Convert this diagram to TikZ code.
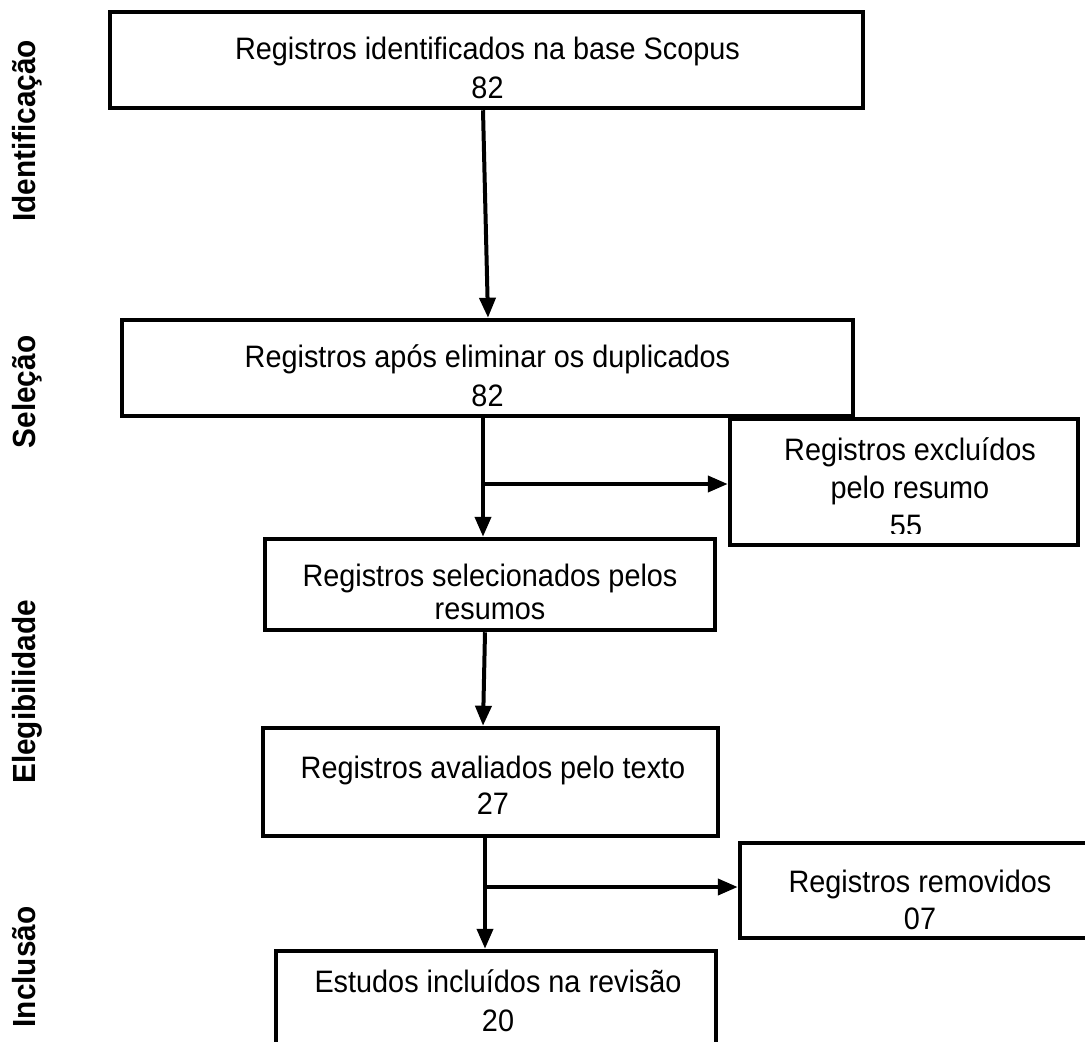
\documentclass[tikz,border=0pt]{standalone}
\usepackage{fontspec}
\setmainfont{Liberation Sans}
\newfontfamily\tallfont{Liberation Sans}[FakeStretch=0.93]
\usetikzlibrary{arrows.meta}
\begin{document}
\begin{tikzpicture}[x=1pt,y=-1pt,
  boxn/.style={draw=black, line width=4.5pt, inner sep=0pt},
  txt/.style={font=\tallfont\fontsize{31}{36}\selectfont, inner sep=0pt, anchor=base},
  side/.style={font=\tallfont\fontsize{32}{36}\selectfont\bfseries, inner sep=0pt, anchor=base, rotate=90},
  arr/.style={line width=4pt, -{Triangle[length=20pt,width=16pt]}}]
\useasboundingbox (0,0) rectangle (1085,1042);
\clip (0,0) rectangle (1085,1042);
\fill[white] (0,0) rectangle (1085,1042);

% boxes
\node[boxn, minimum width=753pt, minimum height=96pt] (b1) at (486.5,60) {};
\node[boxn, minimum width=731pt, minimum height=96pt] (b2) at (487.5,368) {};
\node[boxn, minimum width=348pt, minimum height=126pt] (b3) at (904,482) {};
\node[boxn, minimum width=450pt, minimum height=91pt] (b4) at (490,584.5) {};
\node[boxn, minimum width=455pt, minimum height=108pt] (b5) at (490.5,782) {};
\node[boxn, minimum width=360pt, minimum height=95pt] (b6) at (920,890.5) {};
\node[boxn, minimum width=440pt, minimum height=129pt] (b7) at (496,1015.5) {};

% texts
\node[txt] (t1a) at (487.5,59) {Registros identificados na base Scopus};
\node[txt] (t1b) at (487.5,98) {82};
\node[txt] (t2a) at (487.5,367) {Registros após eliminar os duplicados};
\node[txt] (t2b) at (487.5,406) {82};
\node[txt] (t3a) at (910,460) {Registros excluídos};
\node[txt] (t3b) at (910,498) {pelo resumo};
\begin{scope}
  \clip (730,419) rectangle (1078,533);
  \node[txt] (t3c) at (906,536) {55};
\end{scope}
\node[txt] (t4a) at (490,586) {Registros selecionados pelos};
\node[txt] (t4b) at (490,619) {resumos};
\node[txt] (t5a) at (493,778) {Registros avaliados pelo texto};
\node[txt] (t5b) at (493,814) {27};
\node[txt] (t6a) at (920,892) {Registros removidos};
\node[txt] (t6b) at (920,929) {07};
\node[txt] (t7a) at (498,992) {Estudos incluídos na revisão};
\node[txt] (t7b) at (498,1031) {20};

% side labels
\node[side] (s1) at (35,131) {Identificação};
\node[side] (s2) at (35,392) {Seleção};
\node[side] (s3) at (35,692) {Elegibilidade};
\node[side] (s4) at (35,967) {Inclusão};

% connectors
\coordinate (j1) at (483,484);
\coordinate (j2) at (485,887);
\draw[arr] (b1.south -| 483,0) -- (b2.north -| 488,0);
\draw[arr] (b2.south -| j1) -- (b4.north -| j1);
\draw[arr] (j1) -- (b3.west |- j1);
\draw[arr] (b4.south -| 485,0) -- (b5.north -| 483,0);
\draw[arr] (b5.south -| j2) -- (b7.north -| j2);
\draw[arr] (j2) -- (b6.west |- j2);
\end{tikzpicture}
\end{document}
